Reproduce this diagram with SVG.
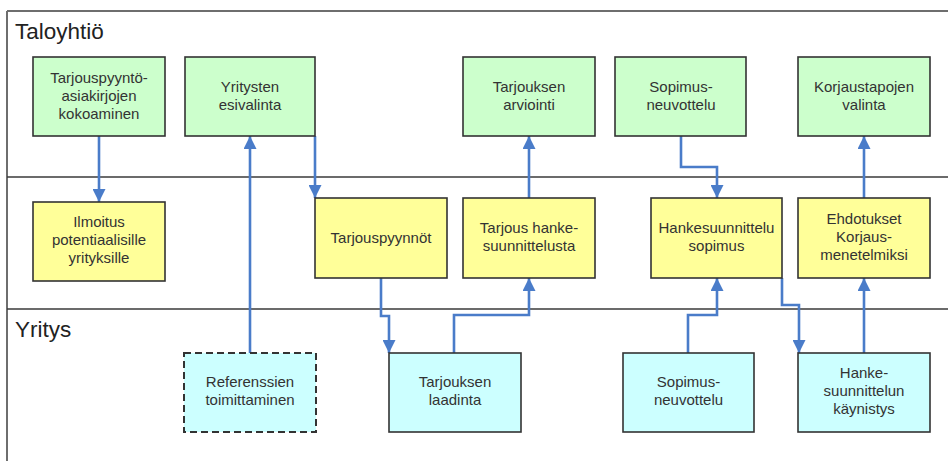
<svg xmlns="http://www.w3.org/2000/svg" width="948" height="461" viewBox="0 0 948 461">
  <style>
    .lane { stroke: #3a3a3a; stroke-width: 1.6; fill: none; }
    .frame { stroke: #6e6e6e; stroke-width: 2; fill: none; }
    .lane-label { font-family: "Liberation Sans", Arial, sans-serif; font-size: 22.5px; fill: #222; }
    .box { stroke: #333; stroke-width: 1.6; }
    .green { fill: #ccffcc; }
    .yellow { fill: #ffff99; }
    .cyan { fill: #ccffff; }
    .dashed { stroke-dasharray: 7 4; stroke-width: 2; }
    .label { font-family: "Liberation Sans", Arial, sans-serif; font-size: 15px; fill: #333; text-anchor: middle; }
    .conn { stroke: #4a7cc9; stroke-width: 2.6; fill: none; marker-end: url(#arrow); }
  </style>
  <defs>
    <marker id="arrow" viewBox="0 0 10 10" refX="10" refY="5" markerWidth="5" markerHeight="5" markerUnits="strokeWidth" orient="auto">
      <path d="M0,0 L10,5 L0,10 Z" fill="#4a7cc9"/>
    </marker>
  </defs>

  <rect width="948" height="461" fill="#ffffff"/>

  <!-- swimlanes -->
  <g id="lanes">
    <line class="frame" x1="7" y1="11" x2="948" y2="11"/>
    <line class="frame" x1="7" y1="11" x2="7" y2="461"/>
    <line class="lane" x1="7" y1="177" x2="948" y2="177"/>
    <line class="lane" x1="7" y1="309" x2="948" y2="309"/>
    <text class="lane-label" x="15" y="39">Taloyhtiö</text>
    <text class="lane-label" x="15" y="337">Yritys</text>
  </g>

  <!-- connectors -->
  <g id="connectors">
    <path class="conn" d="M99,136 V202"/>
    <path class="conn" d="M250,353 V136"/>
    <path class="conn" d="M315,136 V198"/>
    <path class="conn" d="M381,278 V316 H389 V353"/>
    <path class="conn" d="M454,353 V315 H529 V278"/>
    <path class="conn" d="M529,198 V136"/>
    <path class="conn" d="M681,136 V167 H717 V198"/>
    <path class="conn" d="M688,353 V315 H717 V278"/>
    <path class="conn" d="M782,278 V305 H799 V353"/>
    <path class="conn" d="M864,353 V278"/>
    <path class="conn" d="M864,198 V136"/>
  </g>

  <!-- Taloyhtiö lane: green tasks -->
  <g id="tarjouspyyntoasiakirjat">
    <rect class="box green" x="33" y="57" width="132" height="79"/>
    <text class="label" x="99" y="83">Tarjouspyyntö-</text>
    <text class="label" x="99" y="101">asiakirjojen</text>
    <text class="label" x="99" y="119">kokoaminen</text>
  </g>
  <g id="esivalinta">
    <rect class="box green" x="185" y="57" width="130" height="79"/>
    <text class="label" x="250" y="92">Yritysten</text>
    <text class="label" x="250" y="110">esivalinta</text>
  </g>
  <g id="arviointi">
    <rect class="box green" x="463" y="57" width="132" height="79"/>
    <text class="label" x="529" y="92">Tarjouksen</text>
    <text class="label" x="529" y="110">arviointi</text>
  </g>
  <g id="sopimusneuvottelu-t">
    <rect class="box green" x="615" y="57" width="131" height="79"/>
    <text class="label" x="681" y="92">Sopimus-</text>
    <text class="label" x="681" y="110">neuvottelu</text>
  </g>
  <g id="korjaustapojen-valinta">
    <rect class="box green" x="798" y="57" width="132" height="79"/>
    <text class="label" x="864" y="92">Korjaustapojen</text>
    <text class="label" x="864" y="110">valinta</text>
  </g>

  <!-- documents between the lanes: yellow -->
  <g id="ilmoitus">
    <rect class="box yellow" x="33" y="202" width="132" height="79"/>
    <text class="label" x="99" y="227">Ilmoitus</text>
    <text class="label" x="99" y="245">potentiaalisille</text>
    <text class="label" x="99" y="263">yrityksille</text>
  </g>
  <g id="tarjouspyynnot">
    <rect class="box yellow" x="315" y="198" width="132" height="80"/>
    <text class="label" x="381" y="243">Tarjouspyynnöt</text>
  </g>
  <g id="tarjous-hankesuunnittelusta">
    <rect class="box yellow" x="463" y="198" width="132" height="80"/>
    <text class="label" x="529" y="233">Tarjous hanke-</text>
    <text class="label" x="529" y="251">suunnittelusta</text>
  </g>
  <g id="hankesuunnittelusopimus">
    <rect class="box yellow" x="651" y="198" width="131" height="80"/>
    <text class="label" x="716.5" y="233">Hankesuunnittelu</text>
    <text class="label" x="716.5" y="251">sopimus</text>
  </g>
  <g id="ehdotukset">
    <rect class="box yellow" x="798" y="198" width="132" height="80"/>
    <text class="label" x="864" y="223.5">Ehdotukset</text>
    <text class="label" x="864" y="242">Korjaus-</text>
    <text class="label" x="864" y="260">menetelmiksi</text>
  </g>

  <!-- Yritys lane: cyan tasks -->
  <g id="referenssit">
    <rect class="box cyan dashed" x="184" y="353" width="132" height="79"/>
    <text class="label" x="250" y="387">Referenssien</text>
    <text class="label" x="250" y="405">toimittaminen</text>
  </g>
  <g id="tarjouksen-laadinta">
    <rect class="box cyan" x="389" y="353" width="132" height="79"/>
    <text class="label" x="455" y="387">Tarjouksen</text>
    <text class="label" x="455" y="405">laadinta</text>
  </g>
  <g id="sopimusneuvottelu-y">
    <rect class="box cyan" x="623" y="353" width="131" height="79"/>
    <text class="label" x="688.5" y="387">Sopimus-</text>
    <text class="label" x="688.5" y="405">neuvottelu</text>
  </g>
  <g id="kaynnistys">
    <rect class="box cyan" x="798" y="353" width="132" height="79"/>
    <text class="label" x="864" y="377.5">Hanke-</text>
    <text class="label" x="864" y="396">suunnittelun</text>
    <text class="label" x="864" y="414">käynistys</text>
  </g>
</svg>
